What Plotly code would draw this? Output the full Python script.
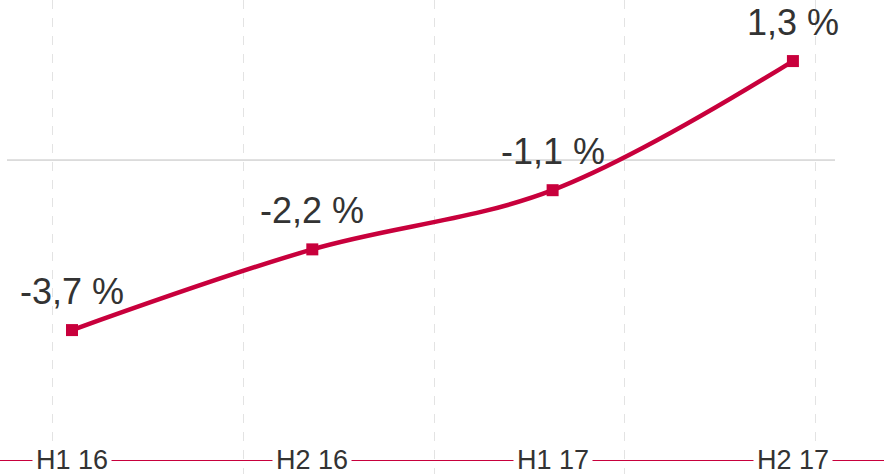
import plotly.graph_objects as go

categories = ["H1 16", "H2 16", "H1 17", "H2 17"]
values = [-3.7, -2.2, -1.1, 1.3]
value_labels = ["-3,7 %", "-2,2 %", "-1,1 %", "1,3 %"]
grid_positions = [0, 1, 2, 3, 4]
reference_level = -0.54

RED = "#c8003c"
TEXT = "#333333"
FONT = "Liberation Sans, Arial, sans-serif"
W, H = 884, 474

xs = list(range(len(categories)))

fig = go.Figure()
fig.add_trace(go.Scatter(
    x=xs, y=values, mode="lines+markers",
    line=dict(color=RED, width=4.5, shape="spline", smoothing=1.0),
    marker=dict(symbol="square", size=12, color=RED),
    hoverinfo="skip", showlegend=False,
))
# invisible trace on second x axis to carry dashed gridlines
fig.add_trace(go.Scatter(x=grid_positions, y=[None]*len(grid_positions), xaxis="x2",
                         mode="markers", showlegend=False, hoverinfo="skip"))

for x, v, t in zip(xs, values, value_labels):
    fig.add_annotation(x=x, y=v, text=t, showarrow=False, yshift=39,
                       font=dict(size=36, color=TEXT, family=FONT))

for x, c in zip(xs, categories):
    fig.add_annotation(x=x, y=14/H, yref="paper", text=c, showarrow=False,
                       xanchor="center", yanchor="middle", bgcolor="white", borderpad=3,
                       font=dict(size=27, color=TEXT, family=FONT))

fig.add_shape(type="line", xref="paper", yref="y", x0=7/W, x1=835/W,
              y0=reference_level, y1=reference_level, line=dict(color="#bdbdbd", width=1), layer="below")

fig.update_layout(
    width=W, height=H,
    margin=dict(l=0, r=0, t=0, b=0),
    paper_bgcolor="white", plot_bgcolor="white",
    xaxis=dict(range=[-0.2996, 3.379], showgrid=False, zeroline=False, showticklabels=False,
               showline=True, linecolor=RED, linewidth=1, anchor="free", position=14/H, ticks=""),
    xaxis2=dict(range=[-0.278, 4.362], overlaying="x", showgrid=True, gridcolor="#e3e3e3",
                griddash="dash", gridwidth=1, showticklabels=False, zeroline=False, showline=False,
                tickvals=grid_positions, ticks=""),
    yaxis=dict(range=[-6.375, 2.435], showgrid=False, zeroline=False, showticklabels=False,
               showline=False, ticks=""),
)

fig.write_html("out.html", config={"displayModeBar": False, "staticPlot": True},
               post_script="document.body.style.margin='0';document.body.style.overflow='hidden';")
